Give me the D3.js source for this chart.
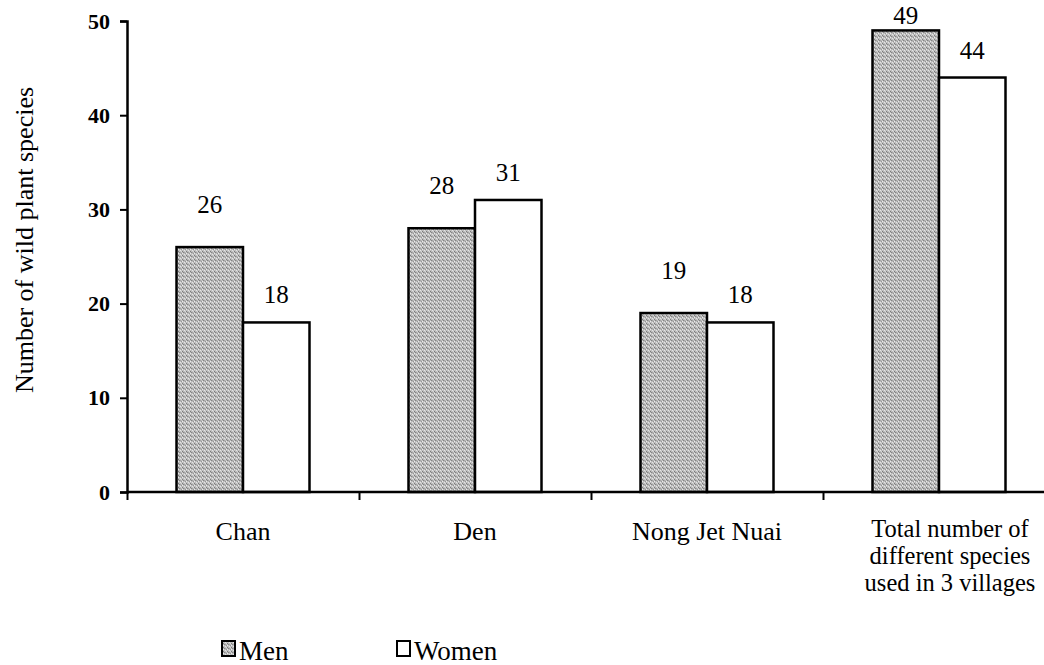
<!DOCTYPE html>
<html>
<head>
<meta charset="utf-8">
<script src="https://cdn.jsdelivr.net/npm/d3@7"></script>
<style>
  body { margin: 0; background: #fff; }
  svg text { font-family: "Liberation Serif", "Times New Roman", serif; fill: #000; }
</style>
</head>
<body>
<div id="chart"></div>
<script>
// data
const categories = ["Chan", "Den", "Nong Jet Nuai", "Total"];
const categoryLines = [
    ["Chan"],
    ["Den"],
    ["Nong Jet Nuai"],
    ["Total number of", "different species", "used in 3 villages"]
];
const series = ["Men", "Women"];
const menValues = [26, 28, 19, 49];
const womenValues = [18, 31, 18, 44];
const yTicks = [0, 10, 20, 30, 40, 50];

const width = 1044, height = 665;
const plot = { left: 127, right: 1055, top: 21, bottom: 492 };

const svg = d3.select("#chart").append("svg")
    .attr("width", width)
    .attr("height", height);

// grey stipple for the Men bars
const defs = svg.append("defs");
const pat = defs.append("pattern")
    .attr("id", "stipple")
    .attr("patternUnits", "userSpaceOnUse")
    .attr("width", 4)
    .attr("height", 4);
pat.append("rect").attr("width", 4).attr("height", 4).attr("fill", "#bdbdbd");
[[0, 0, "#858585"], [2, 1, "#959595"], [1, 2, "#e4e4e4"], [3, 3, "#7a7a7a"], [3, 1, "#ececec"], [1, 0, "#a4a4a4"], [2, 3, "#d8d8d8"]]
    .forEach(p => pat.append("rect").attr("x", p[0]).attr("y", p[1]).attr("width", 1).attr("height", 1).attr("fill", p[2]));

const data = categories.map((c, i) => ({ cat: c, values: [menValues[i], womenValues[i]] }));

// scales
const x0 = d3.scaleBand().domain(categories).range([plot.left, plot.right]).padding(0);
const pairW = 133;
const x1 = d3.scaleBand().domain(series)
    .range([(x0.step() - pairW) / 2, (x0.step() + pairW) / 2]);
const y = d3.scaleLinear().domain([0, 50]).range([plot.bottom, plot.top]);

// bars
const groups = svg.selectAll(".grp")
    .data(data)
    .enter().append("g")
    .attr("class", "grp")
    .attr("transform", d => `translate(${x0(d.cat)},0)`);

groups.selectAll("rect")
    .data(d => d.values.map((v, j) => ({ s: series[j], v: v })))
    .enter().append("rect")
    .attr("x", d => x1(d.s))
    .attr("y", d => y(d.v))
    .attr("width", x1.bandwidth())
    .attr("height", d => y(0) - y(d.v))
    .attr("fill", d => d.s === "Men" ? "url(#stipple)" : "#fff")
    .attr("stroke", "#000")
    .attr("stroke-width", 2.5);

// value labels (kept inside the top edge)
groups.selectAll(".val")
    .data(d => d.values.map((v, j) => ({ s: series[j], v: v })))
    .enter().append("text")
    .attr("class", "val")
    .attr("x", d => x1(d.s) + x1.bandwidth() / 2)
    .attr("y", d => Math.max(y(d.v) - (d.s === "Men" ? 34 : 19), 24))
    .attr("text-anchor", "middle")
    .style("font-size", "25px")
    .text(d => d.v);

// y axis
const yAxis = svg.append("g")
    .attr("transform", `translate(${plot.left},0)`)
    .call(d3.axisLeft(y).tickValues(yTicks).tickSize(7).tickPadding(10));
yAxis.select(".domain").attr("stroke-width", 2.5);
yAxis.selectAll(".tick line").attr("stroke-width", 2);
yAxis.selectAll("text")
    .style("font-size", "22px")
    .style("font-weight", "bold")
    .style("font-family", "'Liberation Serif', serif");

// x axis: ticks at the category boundaries
const xb = d3.scaleLinear().domain([0, categories.length]).range([plot.left, plot.right]);
const xAxis = svg.append("g")
    .attr("transform", `translate(0,${plot.bottom})`)
    .call(d3.axisBottom(xb).tickValues([0, 1, 2, 3]).tickSize(8).tickFormat(""));
xAxis.select(".domain").attr("d", `M${plot.left},0H${width}`).attr("stroke-width", 2.5);
xAxis.selectAll(".tick line").attr("stroke-width", 2);

// category labels
svg.selectAll(".cat")
    .data(categoryLines)
    .enter().append("text")
    .attr("class", "cat")
    .attr("text-anchor", "middle")
    .attr("y", (d, i) => i === 3 ? 537 : 540)
    .style("font-size", (d, i) => i === 3 ? "24.5px" : "26px")
    .each(function (lines, i) {
        const t = d3.select(this);
        const cx = x0(categories[i]) + x0.bandwidth() / 2 + (i === 3 ? 11 : 0);
        lines.forEach((ln, k) => {
            t.append("tspan")
                .attr("x", cx)
                .attr("dy", k === 0 ? 0 : 27)
                .text(ln);
        });
    });

// y axis title
svg.append("text")
    .attr("transform", "translate(33,240) rotate(-90)")
    .attr("text-anchor", "middle")
    .style("font-size", "26px")
    .text("Number of wild plant species");

// legend
const legend = [{ name: "Men", x: 222 }, { name: "Women", x: 397 }];
legend.forEach(l => {
    svg.append("rect")
        .attr("x", l.x)
        .attr("y", 641)
        .attr("width", 13)
        .attr("height", 15)
        .attr("fill", l.name === "Men" ? "url(#stipple)" : "#fff")
        .attr("stroke", "#000")
        .attr("stroke-width", 2);
    svg.append("text")
        .attr("x", l.x + 17)
        .attr("y", 660)
        .style("font-size", "27px")
        .text(l.name);
});
</script>
</body>
</html>
